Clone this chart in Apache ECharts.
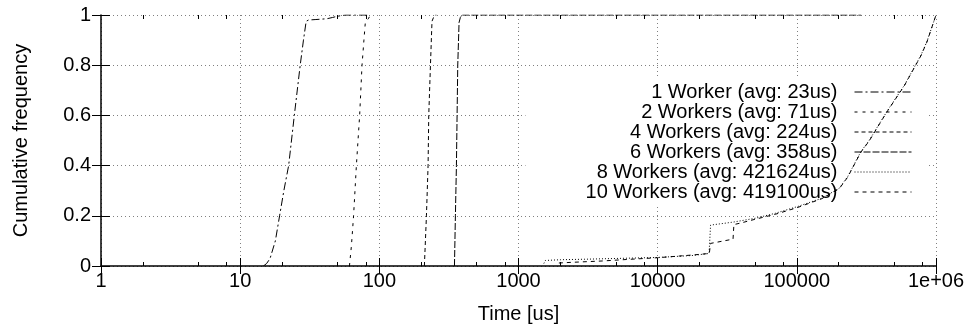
<!DOCTYPE html>
<html>
<head>
<meta charset="utf-8">
<script src="https://cdn.jsdelivr.net/npm/echarts@6/dist/echarts.min.js"></script>
<style>
  html, body { margin: 0; padding: 0; background: #fff; }
  #chart { width: 973px; height: 329px; }
</style>
</head>
<body>
<div id="chart"></div>
<script>
// tick values (minor ticks sit at 2, 5 and 8 of every decade)
const minorTicks = [2, 5, 8, 20, 50, 80, 200, 500, 800, 2000, 5000, 8000,
  20000, 50000, 80000, 200000, 500000, 800000];

const seriesNames = [
  "1 Worker (avg: 23us)",
  "2 Workers (avg: 71us)",
  "4 Workers (avg: 224us)",
  "6 Workers (avg: 358us)",
  "8 Workers (avg: 421624us)",
  "10 Workers (avg: 419100us)"
];

// [time us, cumulative frequency]
const worker1 = [[14.7, 0], [15.5, 0.01], [16.4, 0.03], [17.9, 0.1], [19.2, 0.2], [20.6, 0.3],
  [22.3, 0.4], [24.5, 0.6], [27, 0.8], [28.5, 0.9], [29.8, 0.975], [31, 0.98], [35, 0.982],
  [42, 0.985], [46, 0.99], [50, 0.995], [57, 1], [82, 1]];
const worker2 = [[61, 0], [63, 0.08], [65.3, 0.2], [68.4, 0.4], [72.2, 0.6], [75.1, 0.8],
  [77.5, 0.9], [79.3, 0.97], [83.8, 0.987], [86, 1]];
const worker4 = [[210.7, 0], [218, 0.2], [224, 0.4], [226.5, 0.6], [233, 0.8], [239, 0.975],
  [245, 0.99], [253, 1], [257, 1]];
const worker6 = [[346.6, 0], [352, 0.2], [358, 0.4], [362, 0.6], [366, 0.8], [374, 0.97],
  [382, 0.99], [393, 1], [290000, 1]];
const worker8 = [[1521, 0.01], [1560, 0.022], [2000, 0.025], [3000, 0.027], [5000, 0.03],
  [10000, 0.034], [18000, 0.042], [23400, 0.05], [24000, 0.163], [30000, 0.17], [35000, 0.175],
  [50000, 0.19], [70000, 0.21], [100000, 0.236], [151000, 0.27], [201800, 0.31], [232000, 0.356],
  [288000, 0.455], [331000, 0.5], [380000, 0.555], [449000, 0.62], [592000, 0.72],
  [780000, 0.84], [860000, 0.894], [1000000, 1]];
const worker10 = [[1950, 0.012], [2500, 0.015], [4000, 0.02], [6000, 0.026], [10000, 0.033],
  [18000, 0.044], [23500, 0.05], [24000, 0.09], [34800, 0.107], [35300, 0.165], [40000, 0.172],
  [50000, 0.186], [70000, 0.206], [100000, 0.232], [151000, 0.268], [201800, 0.308],
  [232000, 0.354], [288000, 0.453], [331000, 0.498], [380000, 0.553], [449000, 0.618],
  [592000, 0.718], [780000, 0.838], [860000, 0.892], [1000000, 1]];

const allData = [worker1, worker2, worker4, worker6, worker8, worker10];
const dashes = [[8, 3, 2, 3], [3, 5], [4, 3], [7, 2], [1, 2], [4, 4]];

const font = "'Liberation Sans', Arial, Helvetica, sans-serif";
const gridLine = { show: true, lineStyle: { color: "#808080", width: 1, type: [1, 3] } };
const tickColor = "#000";

// plain value axis over the decades (log10 of time), used only for tick marks
function tickAxis(pos, len, custom) {
  const tick = { show: true, inside: true, length: len, lineStyle: { color: tickColor, width: 1 } };
  if (custom) tick.customValues = custom;
  return {
    type: "value",
    min: 0,
    max: 6,
    interval: 1,
    position: pos,
    axisLine: { show: false },
    axisLabel: { show: false },
    splitLine: { show: false },
    axisTick: tick
  };
}
const minorPos = minorTicks.map(function (v) { return Math.log10(v); });

const chart = echarts.init(document.getElementById("chart"));

chart.setOption({
  animation: false,
  backgroundColor: "#fff",
  grid: { left: 101, right: 37, top: 15, bottom: 63 },
  xAxis: [
    {
      type: "log",
      logBase: 10,
      min: 1,
      max: 1000000,
      position: "bottom",
      name: "Time [us]",
      nameLocation: "middle",
      nameGap: 38,
      nameTextStyle: { fontFamily: font, fontSize: 20, color: "#000" },
      axisLine: { show: true, lineStyle: { color: "#000", width: 1.5 } },
      axisTick: { show: true, inside: true, length: 8, lineStyle: { color: tickColor, width: 1 } },
      axisLabel: {
        fontFamily: font, fontSize: 20, color: "#000", margin: 5,
        formatter: function (v) { return v >= 1000000 ? "1e+06" : String(v); }
      },
      splitLine: gridLine
    },
    tickAxis("top", 8),
    tickAxis("bottom", 4, minorPos),
    tickAxis("top", 4, minorPos)
  ],
  yAxis: [
    {
      type: "value",
      min: 0,
      max: 1,
      interval: 0.2,
      position: "left",
      name: "Cumulative frequency",
      nameLocation: "middle",
      nameGap: 70,
      nameTextStyle: { fontFamily: font, fontSize: 20, color: "#000" },
      axisLine: { show: true, lineStyle: { color: "#000", width: 1.5 } },
      axisTick: { show: true, inside: true, length: 9, lineStyle: { color: tickColor, width: 1 } },
      axisLabel: { fontFamily: font, fontSize: 20, color: "#000", margin: 10 },
      splitLine: gridLine
    },
    {
      type: "value",
      min: 0,
      max: 1,
      interval: 0.2,
      position: "right",
      axisLine: { show: false },
      axisTick: { show: true, inside: true, length: 9, lineStyle: { color: tickColor, width: 1 } },
      axisLabel: { show: false },
      splitLine: { show: false }
    }
  ],
  legend: {
    orient: "vertical",
    right: 47,
    top: 77,
    align: "right",
    z: 1,
    backgroundColor: "#fff",
    padding: [5, 14, 5, 60],
    itemWidth: 57,
    itemHeight: 14,
    itemGap: 0,
    selectedMode: false,
    itemStyle: { opacity: 0 },
    lineStyle: { width: 1 },
    textStyle: { fontFamily: font, fontSize: 20, color: "#000", lineHeight: 19.4,
      padding: [0, 12, 0, 0] },
    data: seriesNames
  },
  series: seriesNames.map(function (name, i) {
    return {
      name: name,
      type: "line",
      xAxisIndex: 0,
      yAxisIndex: 0,
      data: allData[i],
      showSymbol: false,
      symbol: "none",
      z: 2,
      lineStyle: { color: "#000", width: 1, type: dashes[i] },
      itemStyle: { color: "#000" },
      emphasis: { disabled: true }
    };
  })
});
</script>
</body>
</html>
